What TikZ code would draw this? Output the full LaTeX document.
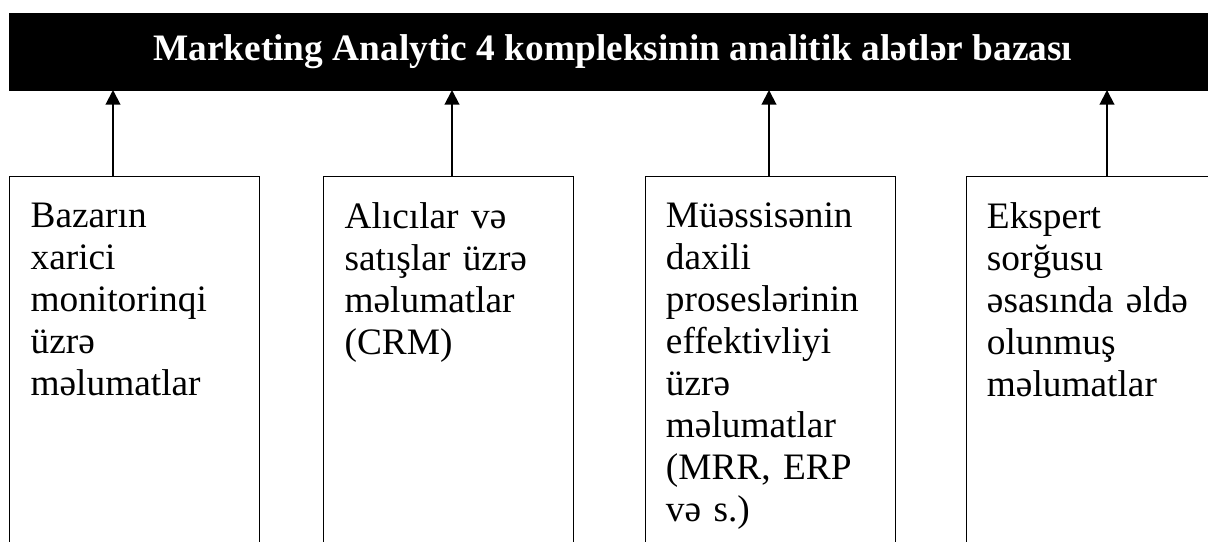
\documentclass[tikz,border=0pt]{standalone}
\usepackage{fontspec}
\setmainfont{Liberation Serif}
\usetikzlibrary{arrows.meta,positioning}

\tikzset{
    headbar/.style={draw=black, fill=black, text=white, font=\bfseries\fontsize{28}{32}\selectfont,
        minimum width=905.25pt, minimum height=57.75pt, anchor=north west, inner sep=0pt},
    srcbox/.style={draw=black, line width=0.8pt, minimum width=187.5pt, minimum height=288pt,
        anchor=north west, inner sep=0pt},
    srctext/.style={anchor=north west, inner sep=0pt, align=left, text width=175pt,
        font=\fontsize{28}{31.5}\selectfont},
    feed/.style={line width=1.5pt, -{Triangle[width=11pt,length=11pt]}}
}

\begin{document}
\begin{tikzpicture}[x=0.75pt, y=-0.75pt]
    \clip (0,0) rectangle (1208,542);
    \useasboundingbox (0,0) rectangle (1208,542);

    \node[headbar] (base) at (9,13) {Marketing Analytic 4 kompleksinin analitik alətlər bazası};

    \node[srcbox] (src1) at (9,176) {};
    \node[srcbox] (src2) at (323,176) {};
    \node[srcbox] (src3) at (645,176) {};
    \node[srcbox] (src4) at (966,176) {};

    \node[srctext] (txt1) at ([xshift=16pt, yshift=-20pt]src1.north west)
        {Bazarın\\xarici\\monitorinqi\\üzrə\\məlumatlar};
    \node[srctext] (txt2) at ([xshift=16pt, yshift=-20pt]src2.north west)
        {Alıcılar və\\satışlar üzrə\\məlumatlar\\(CRM)};
    \node[srctext] (txt3) at ([xshift=15.5pt, yshift=-20pt]src3.north west)
        {Müəssisənin\\daxili\\proseslərinin\\effektivliyi\\üzrə\\məlumatlar\\(MRR, ERP\\və s.)};
    \node[srctext] (txt4) at ([xshift=15.5pt, yshift=-20pt]src4.north west)
        {Ekspert\\sorğusu\\əsasında əldə\\olunmuş\\məlumatlar};

    \coordinate (in1) at (113,90);
    \coordinate (in2) at (452,90);
    \coordinate (in3) at (769,90);
    \coordinate (in4) at (1107,90);

    \draw[feed] (src1.north -| in1) -- (in1);
    \draw[feed] (src2.north -| in2) -- (in2);
    \draw[feed] (src3.north -| in3) -- (in3);
    \draw[feed] (src4.north -| in4) -- (in4);
\end{tikzpicture}
\end{document}
